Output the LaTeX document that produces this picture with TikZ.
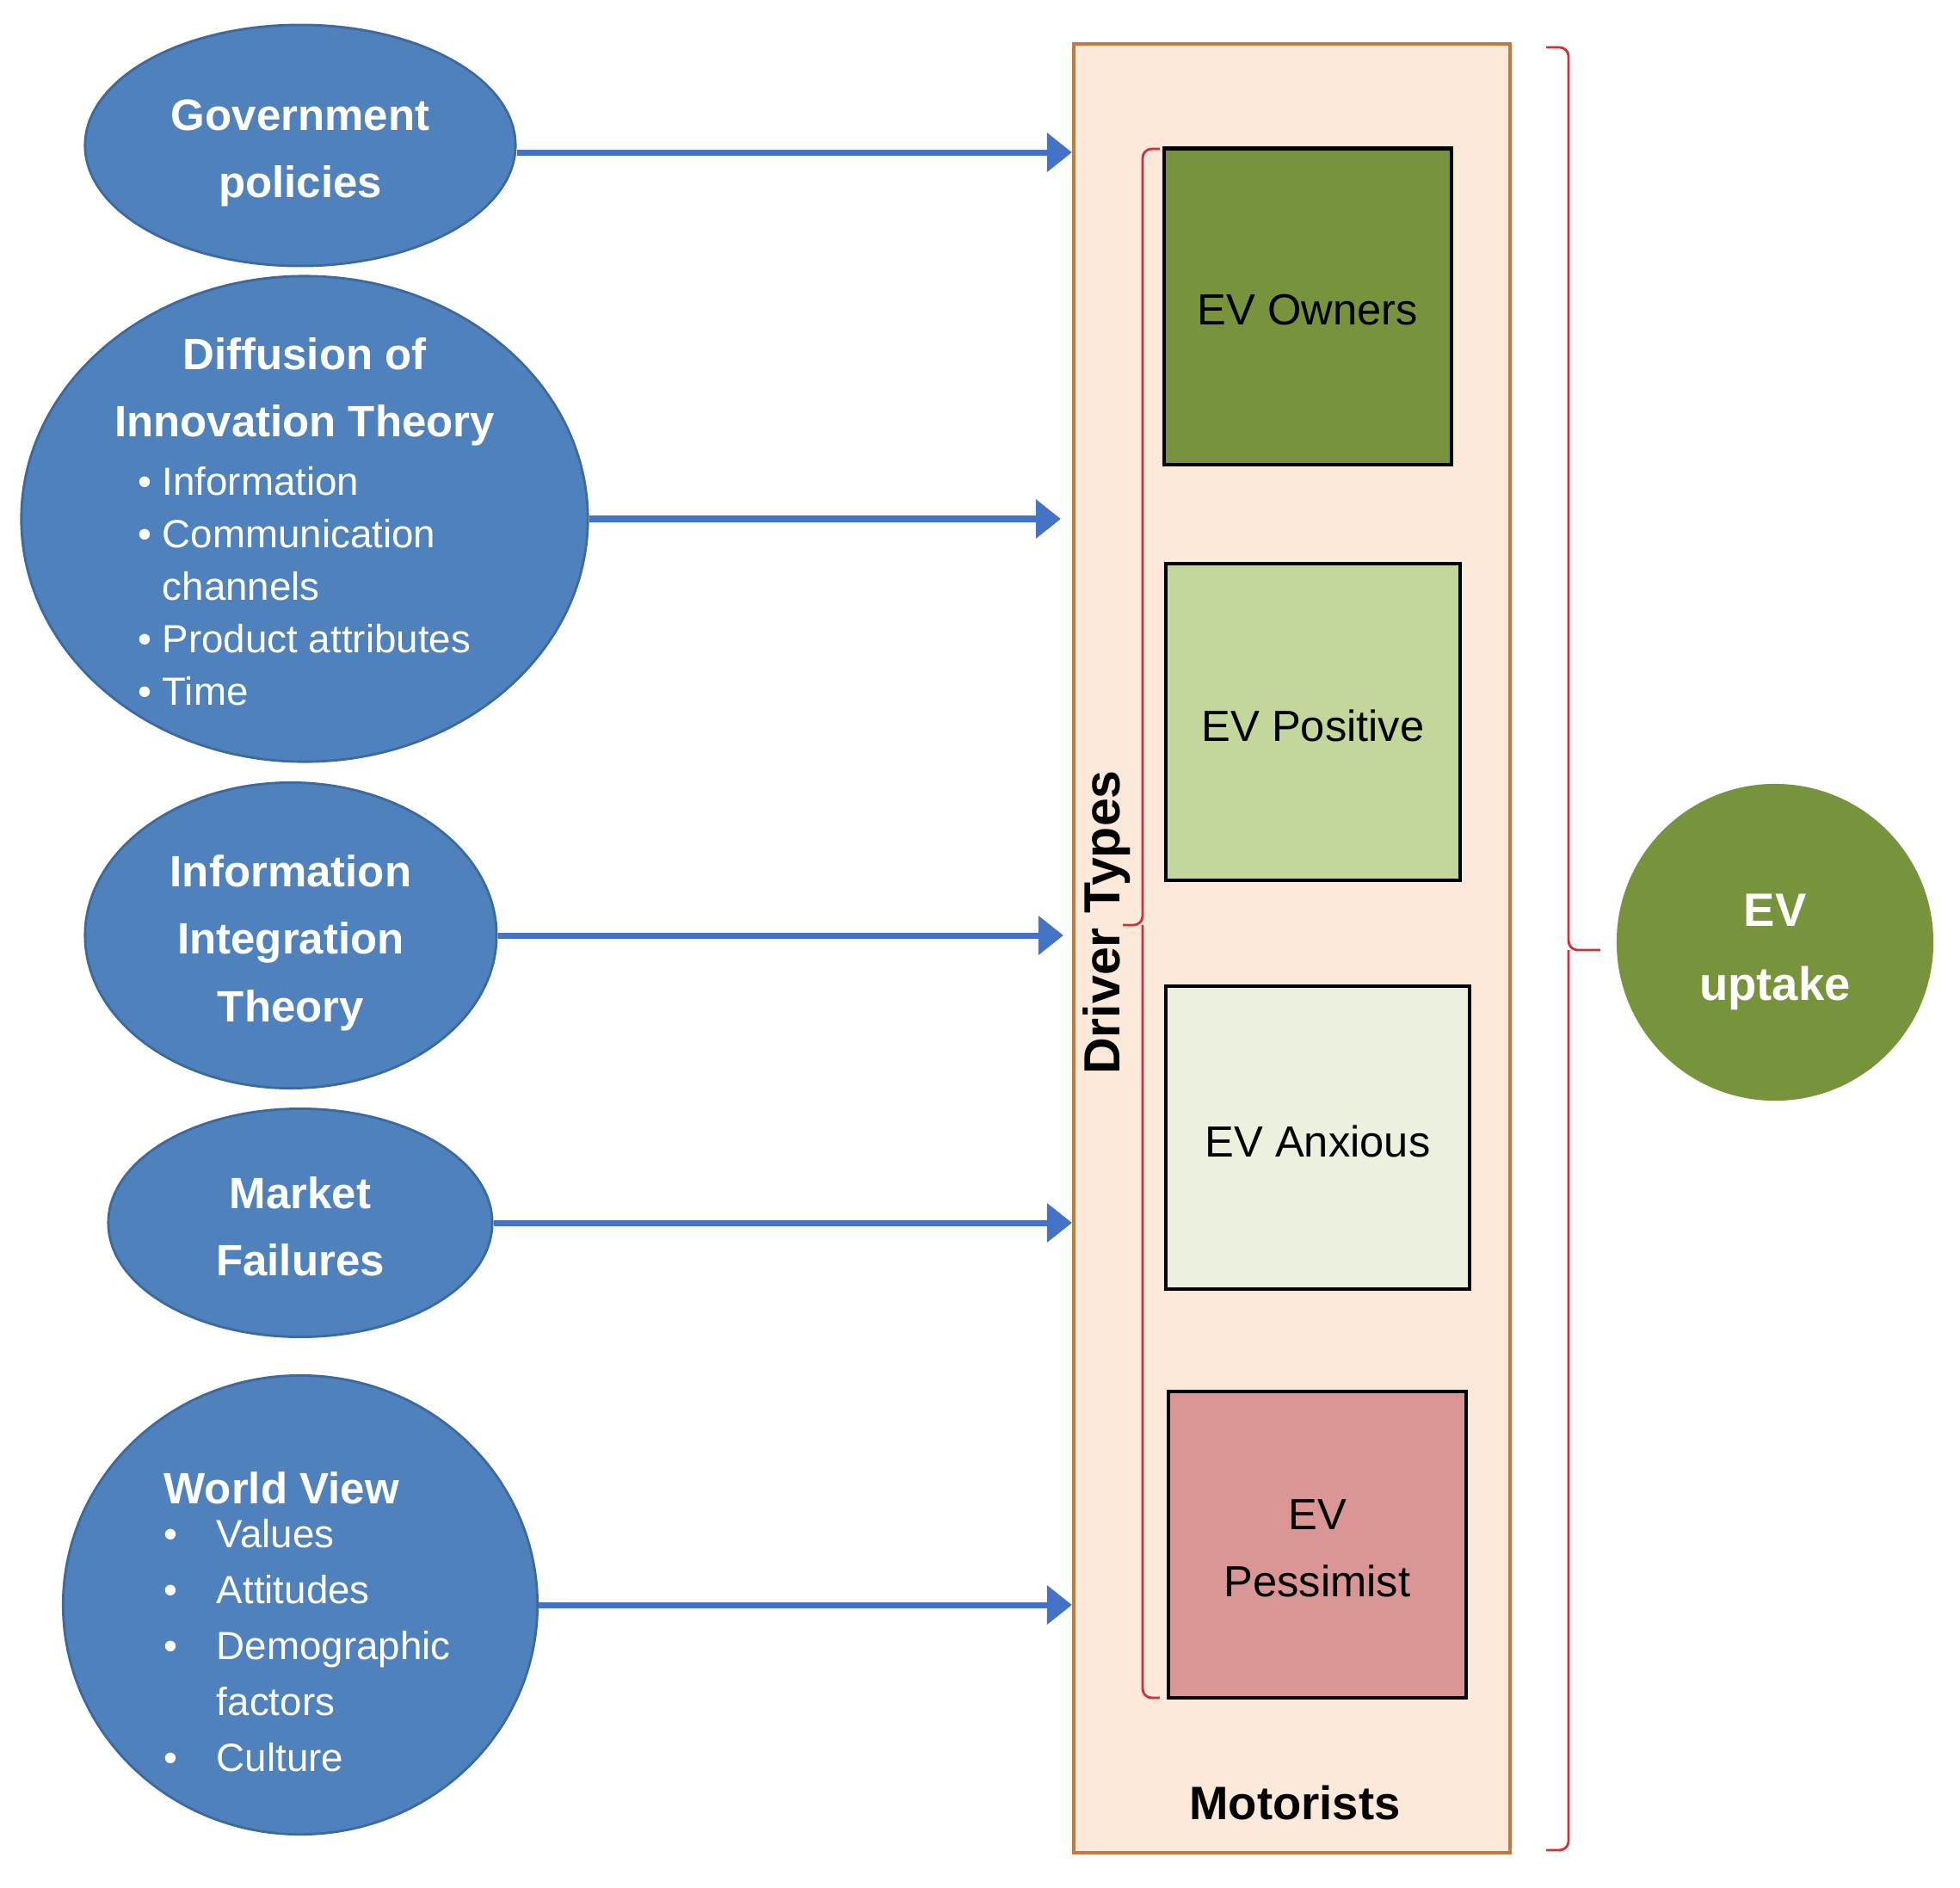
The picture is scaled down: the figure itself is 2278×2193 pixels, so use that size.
\documentclass[tikz,border=0pt]{standalone}
\usepackage{fontspec}
\setmainfont{Liberation Sans}
\usetikzlibrary{arrows.meta,shapes.geometric}
\definecolor{srcblue}{HTML}{4F81BD}
\definecolor{srcedge}{HTML}{3C6A9E}
\definecolor{flowblue}{HTML}{4472C4}
\definecolor{peach}{HTML}{FDE9D9}
\definecolor{peachedge}{HTML}{C27B3E}
\definecolor{ownergreen}{HTML}{77933C}
\definecolor{posgreen}{HTML}{C3D69B}
\definecolor{anxgreen}{HTML}{EBF1DE}
\definecolor{pessred}{HTML}{D99694}
\definecolor{bracered}{HTML}{D0303A}
\begin{document}
\begin{tikzpicture}[x=0.01cm, y=-0.01cm,
	src/.style={ellipse, draw=srcedge, line width=0.8pt, fill=srcblue, inner sep=0pt},
	srctext/.style={text=white, align=center, inner sep=0pt, font=\fontsize{14.5}{22.2}\selectfont\bfseries},
	bullets/.style={text=white, inner sep=0pt, font=\fontsize{13}{18.5}\selectfont},
	drv/.style={draw=black, line width=1.2pt, inner sep=0pt, align=center, font=\fontsize{14.4}{22.2}\selectfont},
	drvtext/.style={align=center, inner sep=0pt, font=\fontsize{14.4}{22.2}\selectfont},
	flow/.style={draw=flowblue, line width=2pt, -{Triangle[length=0.29cm, width=0.44cm]}},
	brk/.style={draw=bracered, line width=0.8pt, rounded corners=3pt}]
	\useasboundingbox (0,0) rectangle (2278,2193);
	\node [draw=peachedge, fill=peach, line width=1.1pt, minimum width=5.07cm, minimum height=21cm, inner sep=0pt] (motor) at (1501.5,1102) {};
	\node [drv, fill=ownergreen, minimum width=3.34cm, minimum height=3.67cm] (owners) at (1520,356) {};
	\node [drv, fill=posgreen, minimum width=3.42cm, minimum height=3.68cm] (positive) at (1526,839) {};
	\node [drv, fill=anxgreen, minimum width=3.53cm, minimum height=3.52cm] (anxious) at (1531.5,1322) {};
	\node [drv, fill=pessred, minimum width=3.46cm, minimum height=3.56cm] (pessimist) at (1531,1795) {};
	\node [drvtext] (owners-txt) at ([yshift=-1.2pt]owners) {EV Owners};
	\node [drvtext] (positive-txt) at ([yshift=-1.2pt]positive) {EV Positive};
	\node [drvtext] (anxious-txt) at ([yshift=-1.2pt]anxious) {EV Anxious};
	\node [drvtext] (pessimist-txt) at ([yshift=-1.2pt]pessimist) {EV\\Pessimist};
	\node [rotate=90, inner sep=0pt, font=\fontsize{16.8}{20}\selectfont\bfseries] (types) at (1286,1072) {Driver Types};
	\node [inner sep=0pt, font=\fontsize{15.5}{20}\selectfont\bfseries] (motorists) at (1505,2095) {Motorists};
	\node [circle, fill=ownergreen, minimum size=3.68cm, inner sep=0pt] (uptake) at (2063,1095) {};
	\node [srctext, font=\fontsize{15.5}{24.5}\selectfont\bfseries] (uptake-txt) at ([yshift=-3.3pt]uptake) {EV\\uptake};
	\node [src, minimum width=5cm, minimum height=2.8cm] (gov) at (349,169) {};
	\node [src, minimum width=6.58cm, minimum height=5.64cm] (diff) at (354,603) {};
	\node [src, minimum width=4.78cm, minimum height=3.55cm] (info) at (338,1087) {};
	\node [src, minimum width=4.46cm, minimum height=2.65cm] (market) at (349,1421) {};
	\node [src, minimum width=5.51cm, minimum height=5.33cm] (world) at (349,1865) {};
	\node [srctext] (gov-txt) at ([yshift=-2.5pt]gov) {Government\\policies};
	\node [srctext] (diff-txt) at ([yshift=-3.5pt]diff) {Diffusion of\\Innovation Theory\\[-3pt]
		{\mdseries\fontsize{13}{17.4}\selectfont\begin{tabular}[t]{@{}l@{}}
		\makebox[7.9pt][l]{\textbullet}Information\\
		\makebox[7.9pt][l]{\textbullet}Communication\\
		\hspace*{7.9pt}channels\\
		\makebox[7.9pt][l]{\textbullet}Product attributes\\
		\makebox[7.9pt][l]{\textbullet}Time
		\end{tabular}}};
	\node [srctext] (info-txt) at ([yshift=-2.5pt]info) {Information\\Integration\\Theory};
	\node [srctext] (market-txt) at ([yshift=-1.2pt]market) {Market\\Failures};
	\node [bullets, align=left, anchor=north west] (world-txt) at (190,1710) {{\fontsize{14.5}{18.5}\selectfont\bfseries World View}\\[-4pt]
		\makebox[17.4pt][l]{\textbullet}Values\\
		\makebox[17.4pt][l]{\textbullet}Attitudes\\
		\makebox[17.4pt][l]{\textbullet}Demographic\\
		\hspace*{17.4pt}factors\\
		\makebox[17.4pt][l]{\textbullet}Culture};
	\draw [flow, transform canvas={yshift=-2.3pt}] (gov.east) -- (gov.east -| motor.west);
	\draw [flow, shorten >=0.13cm] (diff.east) -- (diff.east -| motor.west);
	\draw [flow, shorten >=0.1cm] (info.east) -- (info.east -| motor.west);
	\draw [flow] (market.east) -- (market.east -| motor.west);
	\draw [flow] (world.east) -- (world.east -| motor.west);
	\draw [brk] (1348,173) -| (1328,1075) -- (1305,1075);
	\draw [brk] (1348,1973) -| (1328,1075);
	\draw [brk] (1797,55) -| (1823,1104) -- (1860,1104);
	\draw [brk] (1797,2150) -| (1823,1104);
\end{tikzpicture}
\end{document}
